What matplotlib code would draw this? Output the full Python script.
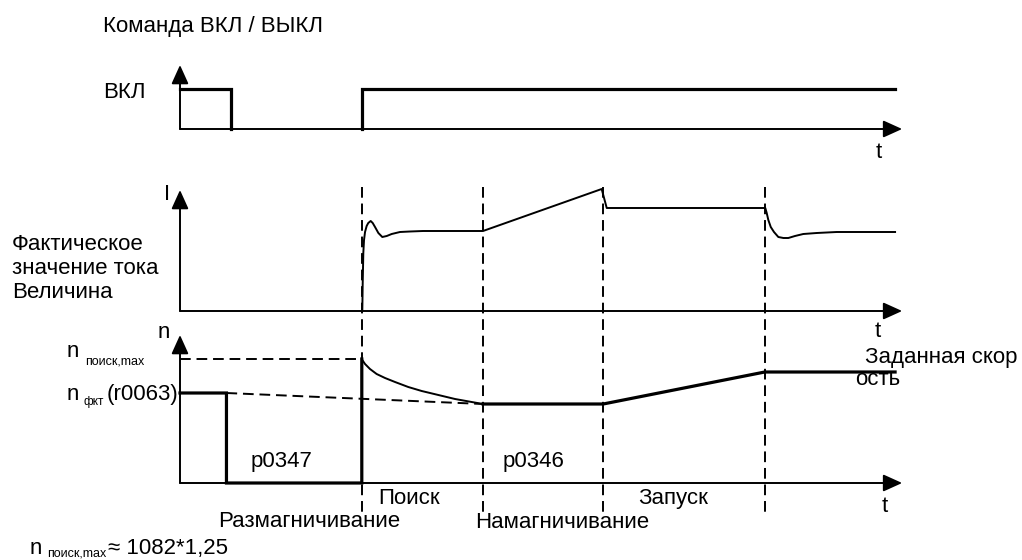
"""
Timing diagram: flying restart (ВКЛ/ВЫКЛ command, current, speed).
Three transparent axes share the full figure; time runs along x.
"""
import numpy as np
import matplotlib

matplotlib.use("Agg")
import matplotlib.pyplot as plt  # noqa: E402

plt.rcParams["font.family"] = ["Liberation Sans", "DejaVu Sans"]

W, H, DPI = 1022, 560, 100

# ---- data (time in arbitrary units) ----
cmd_t = [0.0, 0.505, 0.505, np.nan, 1.8, 1.8, 7.08]
cmd_v = [1.0, 1.0, 0.0, np.nan, 0.0, 1.0, 1.0]

cur_t = [1.805, 1.809, 1.815, 1.822, 1.832, 1.848, 1.864, 1.888, 1.908, 1.931,
         1.964, 2.003, 2.047, 2.096, 2.178, 2.277, 2.406, 3.0, 4.175, 4.225,
         5.795, 5.809, 5.825, 5.849, 5.881, 5.924, 5.974, 6.023, 6.089, 6.171,
         6.304, 6.502, 6.765, 7.08]
cur_v = [0.0, 0.28, 0.58, 0.71, 0.79, 0.85, 0.88, 0.90, 0.88, 0.84,
         0.78, 0.74, 0.75, 0.77, 0.79, 0.795, 0.80, 0.80, 1.22, 1.03,
         1.03, 0.98, 0.91, 0.84, 0.79, 0.74, 0.73, 0.73, 0.75, 0.77,
         0.78, 0.79, 0.79, 0.79]

# speed: thick segments before search and after magnetising
spd_t = [0.0, 0.46, 0.46, 1.8, 1.8, np.nan, 3.0, 4.19, 5.79, 7.08]
spd_v = [0.90, 0.90, 0.0, 0.0, 1.24, np.nan, 0.79, 0.79, 1.11, 1.11]
# speed during search (thin decaying curve)
srch_t = [1.805, 1.832, 1.881, 1.947, 2.030, 2.129, 2.260, 2.393, 2.558, 2.723, 2.888, 3.0]
srch_v = [1.23, 1.19, 1.14, 1.09, 1.05, 1.01, 0.96, 0.92, 0.88, 0.84, 0.81, 0.79]

n_search_max = 1.24
n_act = 0.90
n_mag = 0.79
phase_t = [1.8, 3.0, 4.19, 5.79]

T_AXIS_END = 7.15
ARROW_TOP = {"cmd": 1.6, "cur": 1.21, "spd": 1.48}

# ---- figure / axes layout (px per unit and baseline pixel rows) ----
X0, PPX = 180, 101.0
fig = plt.figure(figsize=(W / DPI, H / DPI), dpi=DPI)


def make_axes(baseline_px, ppy):
    ax = fig.add_axes([0, 0, 1, 1], frameon=False)
    ax.set_xlim(-X0 / PPX, (W - X0) / PPX)
    ax.set_ylim(-(H - baseline_px) / ppy, baseline_px / ppy)
    ax.set_axis_off()
    ax.patch.set_alpha(0)
    return ax


ax1 = make_axes(129, 40.0)
ax2 = make_axes(311, 100.0)
ax3 = make_axes(483, 100.0)

THIN, THICK = 1.4, 2.3
DASH = (0, (5.5, 3.0))
ARW = dict(arrowstyle="-|>,head_length=1.15,head_width=0.52", color="black",
           lw=THIN, shrinkA=0, shrinkB=0, mutation_scale=10)


def draw_axes(ax, ytop):
    ax.annotate("", xy=(0, ytop), xytext=(0, 0), arrowprops=ARW)
    ax.annotate("", xy=(T_AXIS_END, 0), xytext=(0, 0), arrowprops=ARW)


draw_axes(ax1, ARROW_TOP["cmd"])
draw_axes(ax2, ARROW_TOP["cur"])
draw_axes(ax3, ARROW_TOP["spd"])

ax1.plot(cmd_t, cmd_v, color="black", lw=THICK, solid_joinstyle="miter")
ax2.plot(cur_t, cur_v, color="black", lw=THIN)
ax3.plot(spd_t, spd_v, color="black", lw=THICK, solid_joinstyle="miter")
ax3.plot(srch_t, srch_v, color="black", lw=THIN)

# reference dashes
ax3.plot([0, phase_t[0]], [n_search_max, n_search_max], color="black", lw=THIN, ls=DASH)
ax3.plot([0.46, phase_t[1]], [n_act, n_mag], color="black", lw=THIN, ls=DASH)
for t in phase_t:
    ax3.plot([t, t], [2.96, -0.3], color="black", lw=THIN, ls=DASH, clip_on=False)

# ---- text (pixel positions: left edge, baseline) ----
FS, FS_SUB = 16, 9


def label(x, y, s, size=FS, **kw):
    fig.text(x / W, 1 - y / H, s, fontsize=size, ha="left", va="baseline", **kw)


label(103, 32, "Команда ВКЛ / ВЫКЛ")
label(103, 98, "ВКЛ")
label(876, 158, "t")

label(164, 200, "I")
label(12, 250, "Фактическое")
label(12, 274, "значение тока")
label(12, 298, "Величина")
label(875, 337, "t")

label(158, 338, "n")
label(67, 357, "n")
label(85, 364, "поиск,max", size=FS_SUB)
label(67, 400, "n")
label(83, 405, "фкт", size=8.5)
label(107, 400, "(r0063)")
label(251, 467, "p0347")
label(503, 467, "p0346")
label(378, 504, "Поиск")
label(218, 527, "Размагничивание")
label(475, 528, "Намагничивание")
label(638, 504, "Запуск")
label(882, 512, "t")
label(865, 363, "Заданная скор")
label(855, 385, "ость")

label(30, 554, "n")
label(47, 557, "поиск,max", size=FS_SUB)
label(108, 554, "≈ 1082*1,25")

fig.savefig("out.png", dpi=DPI, facecolor="white")
